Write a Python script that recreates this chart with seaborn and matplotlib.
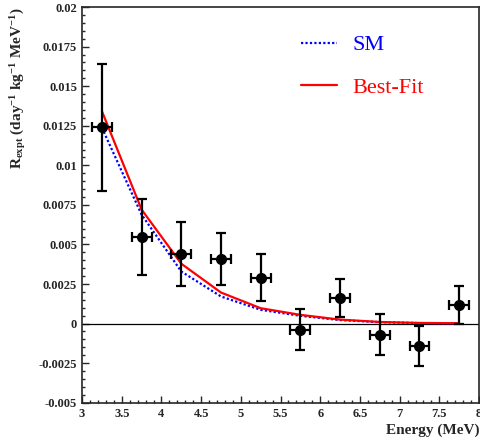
import numpy as np
import pandas as pd
import matplotlib
matplotlib.use("Agg")
import matplotlib.pyplot as plt
import seaborn as sns
from matplotlib.ticker import MultipleLocator, FuncFormatter

# bin centres and measured rates
energy = [3.25, 3.75, 4.25, 4.75, 5.25, 5.75, 6.25, 6.75, 7.25, 7.75]
rate = [0.0124, 0.0055, 0.0044, 0.0041, 0.0029, -0.0004, 0.0016, -0.0007, -0.0014, 0.0012]
rate_err = [0.0040, 0.0024, 0.0020, 0.00165, 0.0015, 0.0013, 0.0012, 0.0013, 0.00125, 0.0012]
energy_err = [0.125] * 10

# model predictions at bin centres
sm = [0.01237, 0.00688, 0.00329, 0.00171, 0.00087, 0.00049, 0.00022, 0.00009, 0.00003, 0.00001]
best_fit = [0.01342, 0.0072, 0.00378, 0.00196, 0.00097, 0.00055, 0.00025, 0.0001, 0.00004, 0.00002]

sns.set_style("ticks")
plt.rcParams["font.family"] = ["Liberation Serif", "DejaVu Serif"]
plt.rcParams["mathtext.fontset"] = "custom"
plt.rcParams["mathtext.rm"] = "Liberation Serif:bold"
plt.rcParams["mathtext.it"] = "Liberation Serif:bold"
plt.rcParams["mathtext.bf"] = "Liberation Serif:bold"

df = pd.DataFrame({"Energy": energy * 2,
                   "R": sm + best_fit,
                   "model": ["SM"] * 10 + ["Best-Fit"] * 10})

fig = plt.figure(figsize=(4.8, 4.43), dpi=100)
ax = fig.add_axes([0.171, 0.091, 0.827, 0.893])

ax.axhline(0, color="black", lw=0.9, zorder=1)

sns.lineplot(data=df, x="Energy", y="R", hue="model", style="model",
             palette={"SM": "blue", "Best-Fit": "red"},
             dashes={"SM": (1, 1), "Best-Fit": ""},
             linewidth=1.6, ax=ax, zorder=3)

ax.errorbar(energy, rate, xerr=energy_err, yerr=rate_err, fmt="o", color="black",
            ms=7, elinewidth=1.6, capsize=3.5, capthick=1.6, zorder=4)

ax.set_xlim(3, 8)
ax.set_ylim(-0.005, 0.02)
ax.xaxis.set_major_locator(MultipleLocator(0.5))
ax.xaxis.set_minor_locator(MultipleLocator(0.1))
ax.yaxis.set_major_locator(MultipleLocator(0.0025))
ax.yaxis.set_minor_locator(MultipleLocator(0.0005))
fmt = FuncFormatter(lambda v, p: "%g" % round(v, 6))
ax.xaxis.set_major_formatter(fmt)
ax.yaxis.set_major_formatter(fmt)
ax.tick_params(which="both", direction="in", top=False, right=False)
ax.tick_params(which="major", length=5, width=1)
ax.tick_params(which="minor", length=2.5, width=1)
for lab in ax.get_xticklabels() + ax.get_yticklabels():
    lab.set_fontweight("bold")
    lab.set_fontsize(9)
for s in ax.spines.values():
    s.set_linewidth(1.2)
    s.set_visible(True)

ax.set_xlabel("Energy (MeV)", loc="right", fontsize=11, fontweight="bold", labelpad=3)
ax.set_ylabel(r"R$_\mathrm{expt}$ (day$^\mathrm{-1}$ kg$^\mathrm{-1}$ MeV$^\mathrm{-1}$)",
              loc="top", fontsize=11, fontweight="bold")
ax.yaxis.set_label_coords(-0.135, 1.0)

leg = ax.legend(loc="upper left", bbox_to_anchor=(0.552, 0.93), frameon=False,
                borderpad=0, borderaxespad=0,
                fontsize=16, handlelength=1.6, handletextpad=0.7, labelspacing=1.0,
                labelcolor="linecolor")

fig.savefig("out.png", dpi=100)
